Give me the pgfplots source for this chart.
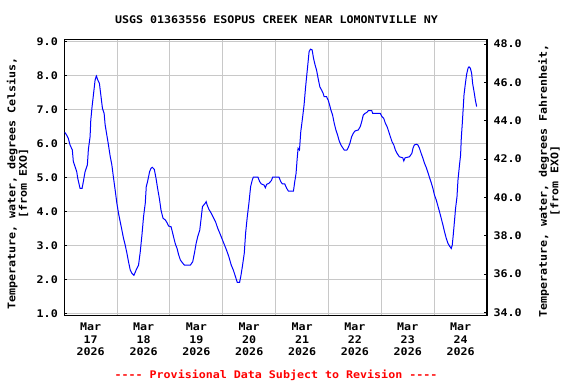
\documentclass[border=0pt]{standalone}
\usepackage{pgfplots}
\pgfplotsset{compat=1.18}
\usepackage{fontspec}
\setmainfont{DejaVu Sans Mono}[FakeStretch=1.11, Ligatures=TeXOff]
\definecolor{gridgray}{RGB}{200,200,200}
\begin{document}
\begin{tikzpicture}[x=1bp,y=1bp]
\useasboundingbox (0,0) rectangle (576,384);
\begin{axis}[
  at={(64.3bp,68.7bp)}, anchor=south west,
  scale only axis, width=422.7bp, height=276bp,
  xmin=0, xmax=192, ymin=0.941, ymax=9.071,
  axis line style={black, line width=1.3bp},
  xtick={12,36,60,84,108,132,156,180},
  xticklabels={{Mar\\17\\2026},{Mar\\18\\2026},{Mar\\19\\2026},{Mar\\20\\2026},{Mar\\21\\2026},{Mar\\22\\2026},{Mar\\23\\2026},{Mar\\24\\2026}},
  minor xtick={24,48,72,96,120,144,168},
  xtick style={draw=none},
  minor x tick style={black, line width=0.8bp},
  minor tick length=3bp,
  xmajorgrids=false, xminorgrids=true,
  ytick={1,2,...,9},
  ymajorgrids=true,
  grid style={gridgray, line width=1bp},
  minor grid style={gridgray, line width=1bp},
  ytick style={black, line width=0.8bp},
  major tick length=3bp,
  tick align=inside,
  ytick pos=left, xtick pos=bottom,
  /pgf/number format/assume math mode=true,
  yticklabel={\pgfmathprintnumber[fixed,precision=1,zerofill]{\tick}},
  tick label style={font=\fontsize{10.5bp}{12.7bp}\selectfont\bfseries},
  xticklabel style={align=center, yshift=-4bp},
  yticklabel style={xshift=-3bp},
]
\addplot[color={rgb,255:red,0;green,0;blue,255}, line width=1bp] coordinates {
(0.2,6.33)(1.09,6.25)(1.82,6.15)(2.6,5.96)(3.65,5.81)(4.1,5.47)(4.88,5.32)(5.65,5.17)(6.1,4.98)(7.15,4.68)(8.07,4.68)(8.66,4.88)(9.43,5.17)(10.48,5.37)(10.94,5.83)(11.71,6.2)(12.03,6.69)(12.62,7.09)(13.22,7.43)(13.99,7.87)(14.45,7.97)(14.58,7.99)(15.22,7.87)(15.95,7.77)(16.59,7.43)(17.32,7.04)(18.09,6.89)(18.55,6.55)(19.32,6.25)(20.05,5.96)(20.83,5.63)(21.6,5.37)(22.33,5.0)(23.1,4.63)(23.88,4.24)(24.61,3.95)(25.38,3.70)(26.16,3.45)(26.89,3.21)(27.66,3.01)(28.44,2.77)(29.16,2.52)(29.94,2.28)(30.71,2.18)(31.63,2.12)(32.67,2.28)(33.72,2.42)(34.5,2.81)(35.27,3.31)(36.0,3.85)(36.77,4.24)(37.23,4.73)(37.82,4.88)(38.74,5.17)(39.37,5.27)(39.97,5.30)(40.88,5.24)(41.65,4.98)(42.38,4.68)(43.16,4.39)(43.93,4.04)(44.84,3.80)(45.89,3.75)(46.66,3.67)(47.39,3.57)(48.49,3.55)(49.08,3.40)(49.67,3.24)(50.45,3.04)(51.22,2.91)(51.95,2.72)(52.72,2.57)(53.64,2.49)(54.55,2.42)(57.28,2.42)(58.33,2.52)(59.1,2.77)(59.88,3.06)(60.61,3.26)(61.52,3.45)(62.16,3.80)(62.75,4.14)(63.34,4.19)(63.98,4.24)(64.44,4.29)(64.89,4.19)(65.62,4.07)(66.71,3.95)(67.9,3.80)(68.67,3.70)(69.72,3.50)(70.63,3.36)(71.73,3.18)(72.78,3.01)(73.69,2.86)(74.73,2.67)(75.83,2.42)(76.74,2.28)(77.65,2.10)(78.56,1.91)(79.61,1.91)(80.2,2.10)(80.98,2.42)(81.75,2.77)(82.35,3.36)(83.12,3.85)(83.85,4.24)(84.63,4.73)(85.4,4.93)(85.86,5.01)(87.95,5.01)(88.73,4.88)(89.5,4.81)(90.69,4.78)(91.33,4.70)(91.92,4.80)(92.97,4.83)(94.06,4.91)(94.65,5.01)(97.52,5.01)(98.3,4.88)(99.07,4.81)(100.12,4.81)(101.03,4.68)(101.8,4.60)(104.08,4.60)(104.68,4.88)(105.27,5.12)(105.72,5.51)(106.18,5.86)(106.82,5.81)(107.41,6.35)(108.18,6.74)(108.91,7.14)(109.55,7.63)(110.14,8.02)(110.74,8.41)(111.19,8.71)(111.83,8.78)(112.56,8.76)(113.2,8.51)(113.93,8.31)(114.56,8.17)(115.29,7.92)(116.07,7.67)(116.84,7.58)(117.57,7.48)(118.03,7.38)(119.12,7.38)(119.85,7.28)(120.49,7.14)(121.08,6.99)(121.86,6.84)(122.59,6.60)(123.36,6.40)(124.13,6.25)(124.86,6.08)(125.64,5.96)(126.41,5.88)(127.14,5.81)(128.37,5.81)(128.96,5.88)(129.74,6.01)(130.51,6.20)(131.24,6.30)(132.02,6.37)(133.52,6.40)(134.43,6.50)(135.07,6.64)(135.8,6.84)(136.57,6.89)(137.48,6.92)(138.08,6.97)(139.63,6.97)(140.08,6.89)(143.55,6.89)(144.32,6.79)(145.1,6.74)(145.82,6.60)(146.6,6.50)(147.37,6.35)(148.1,6.20)(148.88,6.05)(149.65,5.96)(150.38,5.81)(151.16,5.71)(152.2,5.61)(153.75,5.58)(154.21,5.49)(154.8,5.58)(156.76,5.61)(157.86,5.71)(158.45,5.88)(159.04,5.96)(159.95,5.98)(160.59,5.96)(161.32,5.86)(162.09,5.71)(162.87,5.57)(163.6,5.42)(164.37,5.3)(165.15,5.15)(165.88,5.0)(166.65,4.85)(167.42,4.68)(168.15,4.48)(168.93,4.34)(169.7,4.16)(170.43,3.99)(171.2,3.80)(171.98,3.60)(172.71,3.40)(173.48,3.21)(174.26,3.06)(174.99,2.98)(175.76,2.91)(176.22,3.01)(176.67,3.31)(177.27,3.75)(177.72,4.09)(178.36,4.43)(178.82,4.93)(179.55,5.4)(180.0,5.66)(180.32,6.16)(180.78,6.60)(181.55,7.43)(182.14,7.75)(182.74,8.04)(183.38,8.22)(183.83,8.26)(184.43,8.22)(185.02,8.07)(185.47,7.77)(186.11,7.53)(186.71,7.28)(187.3,7.09)
};
\end{axis}
\begin{axis}[
  at={(64.3bp,68.7bp)}, anchor=south west,
  scale only axis, width=422.7bp, height=276bp,
  xmin=0, xmax=192, ymin=33.843, ymax=48.245,
  axis x line=none, axis y line*=right,
  axis line style={black, line width=1.3bp},
  ytick={34,36,...,48},
  ytick style={black, line width=0.8bp},
  major tick length=3bp,
  tick align=inside,
  /pgf/number format/assume math mode=true,
  yticklabel={\pgfmathprintnumber[fixed,precision=1,zerofill]{\tick}},
  tick label style={font=\fontsize{10.5bp}{12.7bp}\selectfont\bfseries},
  yticklabel style={xshift=3bp},
]
\addplot[draw=none] coordinates {(0,40)};
\end{axis}
\node[anchor=base, font=\fontsize{10.5bp}{12.7bp}\selectfont\bfseries] at (276.5,360.7) {USGS 01363556 ESOPUS CREEK NEAR LOMONTVILLE NY};
\node[anchor=base, text=red, font=\fontsize{10.5bp}{12.7bp}\selectfont\bfseries] at (276,5.7) {---- Provisional Data Subject to Revision ----};
\node[rotate=90, align=center, font=\fontsize{10.5bp}{11.5bp}\selectfont\bfseries] at (17.5,200.5) {Temperature, water, degrees Celsius,\\{}[from EXO]};
\node[rotate=90, align=center, font=\fontsize{10.5bp}{11.5bp}\selectfont\bfseries] at (549,203) {Temperature, water, degrees Fahrenheit,\\{}[from EXO]};
\end{tikzpicture}
\end{document}
